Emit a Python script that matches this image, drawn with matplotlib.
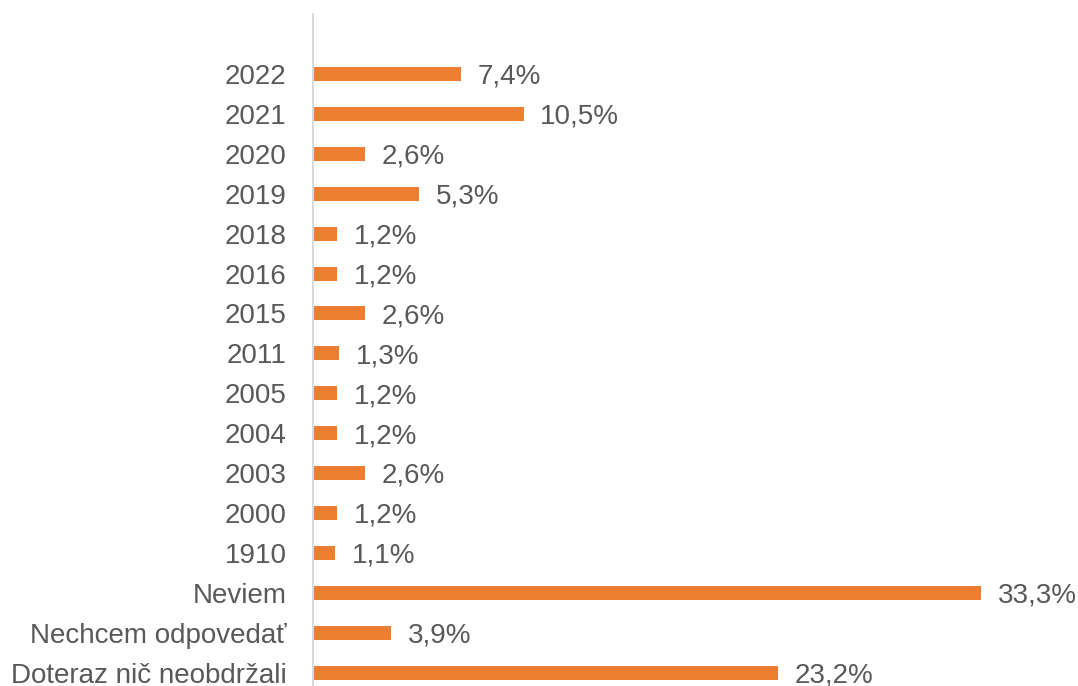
import matplotlib.pyplot as plt

plt.rcParams['font.family'] = ['Liberation Sans', 'DejaVu Sans']

# Data (bottom to top)
categories = [
    "Doteraz nič neobdržali",
    "Nechcem odpovedať",
    "Neviem",
    "1910", "2000", "2003", "2004", "2005", "2011",
    "2015", "2016", "2018", "2019", "2020", "2021", "2022",
]
values = [23.2, 3.9, 33.3, 1.1, 1.2, 2.6, 1.2, 1.2, 1.3,
          2.6, 1.2, 1.2, 5.3, 2.6, 10.5, 7.4]
value_labels = ["23,2%", "3,9%", "33,3%", "1,1%", "1,2%", "2,6%", "1,2%", "1,2%", "1,3%",
                "2,6%", "1,2%", "1,2%", "5,3%", "2,6%", "10,5%", "7,4%"]

bar_color = "#ED7D31"
text_color = "#595959"

fig = plt.figure(figsize=(10.78, 6.86), dpi=100)
ax = fig.add_axes([313 / 1078, 0, 765 / 1078, 672 / 686])

pos = list(range(len(categories)))
ax.barh(pos, values, height=0.35, color=bar_color)

for p, v, lab in zip(pos, values, value_labels):
    ax.annotate(lab, (v, p), xytext=(12, -2), textcoords="offset points",
                va="center", ha="left", fontsize=20, color=text_color)

ax.set_yticks(pos)
ax.set_yticklabels(categories, fontsize=20, color=text_color)
ax.tick_params(axis="y", length=0, pad=19)
ax.set_xticks([])

ax.set_xlim(0, 765 / 20.06)
ax.set_ylim(-0.33, 16.5)

for s in ["top", "right", "bottom"]:
    ax.spines[s].set_visible(False)
ax.spines["left"].set_color("#D9D9D9")
ax.spines["left"].set_linewidth(1.5)

fig.savefig("out.png", dpi=100)
